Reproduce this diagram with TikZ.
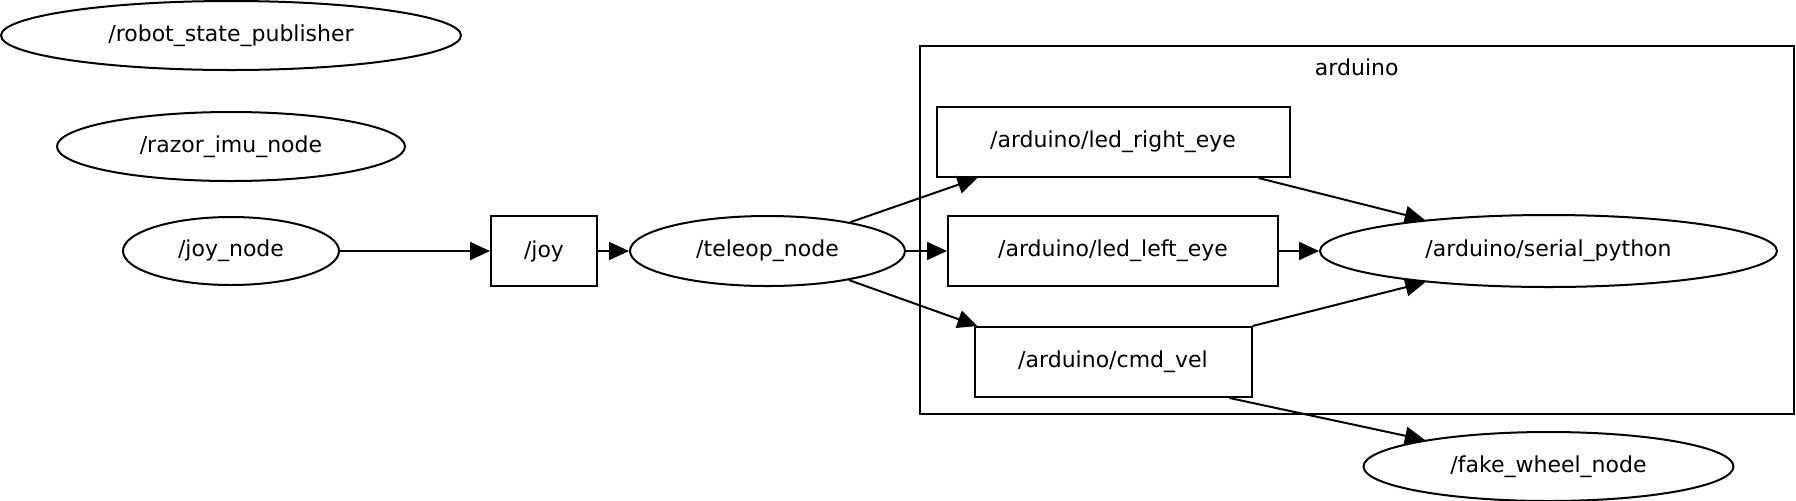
\documentclass[tikz,border=0pt]{standalone}
\usepackage{fontspec}
\setmainfont{DejaVu Sans}
\usetikzlibrary{shapes.geometric, arrows.meta, positioning, fit, backgrounds}

\begin{document}
\begin{tikzpicture}[
      x=0.5pt, y=-0.5pt,
      font=\fontsize{11}{13}\selectfont,
      every node/.style={line width=1pt},
      node_ellipse/.style={ellipse, draw, inner sep=0pt, minimum height=34.5pt},
      topic_block/.style={rectangle, draw, inner sep=0pt, minimum height=35pt},
      line/.style={draw, line width=1pt, -{Triangle[length=10pt, width=9pt]}}
  ]
  \useasboundingbox (0,0) rectangle (1796,500);

  % ros nodes on the left
  \node [node_ellipse, minimum width=230pt] (robot) at (231,35.5) {/robot\_state\_publisher};
  \node [node_ellipse, minimum width=174pt, below=20pt of robot] (razor) {/razor\_imu\_node};
  \node [node_ellipse, minimum width=108pt, minimum height=34pt] (joy_node) at (231,251) {/joy\_node};

  \node [topic_block, minimum width=53pt, right=75pt of joy_node] (joy) {/joy};
  \node [node_ellipse, minimum width=137.5pt, minimum height=35pt, right=15.5pt of joy] (teleop) {/teleop\_node};

  % arduino group
  \node [topic_block, minimum width=165pt, right=20.5pt of teleop] (led_left) {/arduino/led\_left\_eye};
  \node [topic_block, minimum width=176.5pt, above=18.5pt of led_left] (led_right) {/arduino/led\_right\_eye};
  \node [topic_block, minimum width=138.5pt, below=19.5pt of led_left] (cmd_vel) {/arduino/cmd\_vel};
  \node [node_ellipse, minimum width=228.5pt, minimum height=36pt, right=20pt of led_left] (serial) {/arduino/serial\_python};
  \node [node_ellipse, minimum width=185pt, below=71.5pt of serial] (fake_wheel) {/fake\_wheel\_node};

  \coordinate (cluster_top) at (1357,62);
  \begin{scope}[on background layer]
    \node [fit=(cluster_top)(led_right)(cmd_vel)(serial), draw, inner sep=8pt] (cluster) {};
  \end{scope}
  \node (cluster_label) at ([yshift=-11pt]cluster.north) {arduino};

  \path [line] (joy_node) -- (joy);
  \path [line] (joy) -- (teleop);
  \path [line] (teleop) -- ([xshift=21pt]led_right.south west);
  \path [line] (teleop) -- (led_left);
  \path [line] (teleop) -- ([xshift=2pt]cmd_vel.north west);
  \path [line] ([xshift=-16pt]led_right.south east) -- (serial);
  \path [line] (led_left) -- (serial);
  \path [line] (cmd_vel.north east) -- (serial);
  \path [line] ([xshift=-11.5pt]cmd_vel.south east) -- (fake_wheel);

\end{tikzpicture}
\end{document}
